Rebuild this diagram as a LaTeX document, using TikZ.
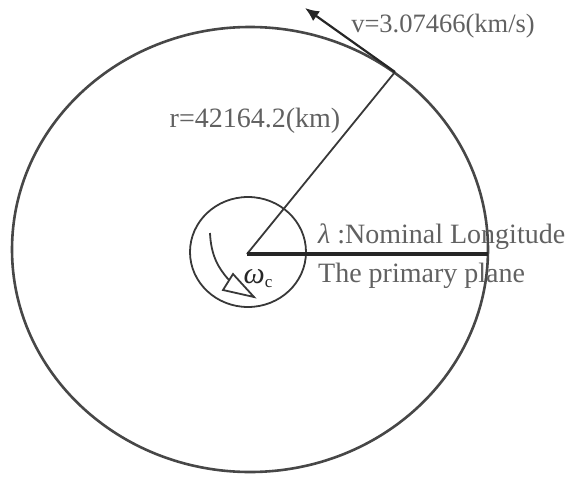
\documentclass[tikz,border=0pt]{standalone}
\usepackage{fontspec}
\setmainfont{Liberation Serif}
\usetikzlibrary{arrows.meta}
\begin{document}
\begin{tikzpicture}[x=1pt,y=-1pt,
  txt/.style={text=black!62, inner sep=0pt, font=\fontsize{28}{30}\selectfont},
  orbit/.style={draw=black!72, line width=2.6pt},
  thin/.style={draw=black!78, line width=1.8pt}]
\useasboundingbox (0,0) rectangle (573,477);
\coordinate (O) at (247,254);
\coordinate (P) at (395,72);
\coordinate (E) at (488,254);
\coordinate (V) at (305,8);
% big orbit
\draw[orbit] (250,249.5) ellipse [x radius=238, y radius=222.5];
% earth
\draw[thin] (248,252) ellipse [x radius=58, y radius=55];
% radius
\draw[thin] (O) -- (P);
% primary plane
\draw[draw=black!85, line width=3.2pt] (O) -- (E);
% velocity
\draw[draw=black!85, line width=2.2pt, -{Latex[length=14pt,width=12pt]}] (P) -- (V);
% rotation arrow
\draw[thin] (210,233) .. controls (211,255) and (218,268) .. (229,280);
\draw[thin, fill=white, line join=miter] (223,290) -- (233,274) -- (254,297) -- cycle;
% labels
\node[txt, anchor=base, font=\fontsize{26.5}{30}\selectfont] (vl) at (443,32) {v=3.07466(km/s)};
\node[txt, anchor=base] (rl) at (255,127) {r=42164.2(km)};
\node[txt, anchor=base west] (ll) at (318,243) {\textit{λ} :Nominal Longitude};
\node[txt, anchor=base west] (pl) at (318,282) {The primary plane};
\node[inner sep=0pt, text=black!85, font=\fontsize{30}{30}\selectfont, anchor=base] (wc) at (258,283) {\textit{ω}\raisebox{-4pt}{\fontsize{17}{18}\selectfont c}};
\end{tikzpicture}
\end{document}
